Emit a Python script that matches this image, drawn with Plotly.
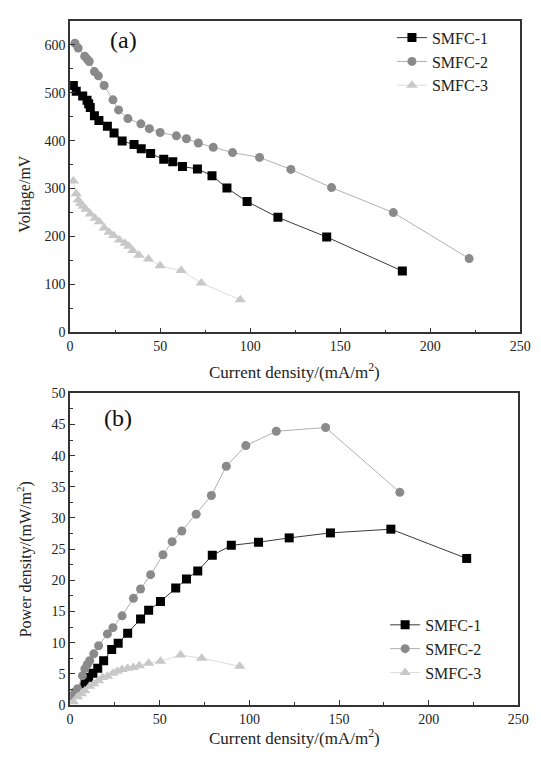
import plotly.graph_objects as go

# Polarization data: current density (mA/m2) vs voltage (mV)
smfc1_i = [1.8, 3.4, 7.0, 9.4, 10.3, 11.2, 13.5, 16.0, 20.7, 24.4, 28.9, 35.5, 39.5, 44.7, 52.0, 57.0, 62.4, 70.7, 78.8, 87.1, 98.3, 115.4, 142.5, 184.5]
smfc1_v = [515, 503, 493, 484, 477, 469, 452, 442, 430, 416, 399, 392, 383, 373, 361, 356, 346, 341, 327, 301, 273, 240, 199, 128]

smfc2_i = [2.7, 4.5, 8.1, 9.5, 10.6, 13.5, 15.7, 18.9, 23.8, 26.9, 32.1, 39.3, 44.0, 50.0, 59.0, 64.6, 71.2, 79.5, 90.2, 105.2, 122.6, 145.2, 179.5, 221.6]
smfc2_v = [603, 593, 576, 570, 565, 544, 535, 515, 485, 464, 446, 435, 425, 417, 410, 404, 395, 386, 375, 365, 340, 302, 250, 154]

smfc3_i = [1.8, 3.4, 4.5, 5.8, 7.2, 8.8, 11.2, 13.9, 16.2, 18.9, 21.6, 24.2, 27.4, 30.5, 32.6, 34.8, 38.2, 43.5, 50.0, 61.7, 72.9, 94.5]
smfc3_v = [316, 289, 276, 269, 263, 257, 247, 238, 231, 218, 209, 202, 193, 186, 180, 171, 161, 153, 139, 129, 103, 68]

# Power density curves: current density (mA/m2) vs power density (mW/m2)
p1_i = [8.2, 10.3, 12.7, 15.4, 18.7, 23.2, 26.8, 32.1, 39.3, 43.8, 50.4, 58.9, 64.9, 71.2, 79.3, 89.9, 105.1, 122.2, 145.2, 178.9, 221.2]
p1_p = [3.4, 4.4, 5.1, 5.9, 7.1, 8.9, 9.9, 11.5, 13.8, 15.2, 16.6, 18.75, 20.2, 21.5, 24.0, 25.6, 26.1, 26.8, 27.6, 28.2, 23.5]

p2_i = [1.3, 2.7, 4.2, 6.9, 8.2, 9.6, 10.9, 13.2, 15.9, 20.8, 23.9, 29.0, 35.3, 39.3, 44.9, 51.8, 56.9, 62.3, 70.3, 78.8, 87.1, 98.0, 115.0, 142.5, 183.9]
p2_p = [1.4, 2.1, 2.6, 4.7, 5.8, 6.5, 7.1, 8.2, 9.5, 11.4, 12.4, 14.3, 17.1, 18.6, 20.9, 24.1, 26.2, 27.9, 30.6, 33.6, 38.3, 41.6, 43.9, 44.5, 34.1]

p3_i = [1.8, 4.2, 6.3, 8.2, 10.9, 13.2, 15.8, 18.1, 20.8, 23.9, 26.3, 29.0, 32.1, 35.3, 38.6, 43.8, 50.4, 61.6, 73.4, 94.6]
p3_p = [0.5, 1.3, 1.8, 2.3, 3.0, 3.4, 3.9, 4.4, 4.6, 5.1, 5.4, 5.7, 5.9, 6.0, 6.3, 6.7, 7.0, 8.0, 7.5, 6.2]

series_names = ["SMFC-1", "SMFC-2", "SMFC-3"]
x_ticks = [0, 50, 100, 150, 200, 250]

FONT = "Liberation Serif"

styles = [
    dict(symbol="square", mcolor="#000000", lcolor="#3a3a3a", size=9),
    dict(symbol="circle", mcolor="#8a8a8a", lcolor="#b0b0b0", size=9),
    dict(symbol="triangle-up", mcolor="#c8c8c8", lcolor="#dcdcdc", size=10),
]

fig = go.Figure()

top = [(smfc1_i, smfc1_v), (smfc2_i, smfc2_v), (smfc3_i, smfc3_v)]
bottom = [(p1_i, p1_p), (p2_i, p2_p), (p3_i, p3_p)]

for name, (xs, ys), st in zip(series_names, top, styles):
    fig.add_trace(go.Scatter(
        x=xs, y=ys, name=name, mode="lines+markers",
        line=dict(color=st["lcolor"], width=1),
        marker=dict(symbol=st["symbol"], color=st["mcolor"], size=st["size"]),
        xaxis="x", yaxis="y", legend="legend",
    ))

for name, (xs, ys), st in zip(series_names, bottom, styles):
    fig.add_trace(go.Scatter(
        x=xs, y=ys, name=name, mode="lines+markers",
        line=dict(color=st["lcolor"], width=1),
        marker=dict(symbol=st["symbol"], color=st["mcolor"], size=st["size"]),
        xaxis="x2", yaxis="y2", legend="legend2",
    ))

W, H = 541, 762


def px_x(v):
    return v / W


def px_y(v):
    return 1 - v / H


axis_common = dict(
    showline=True, linecolor="#333333", linewidth=1.5, mirror=True,
    ticks="inside", ticklen=5, tickcolor="#333333", tickwidth=1,
    showgrid=False, zeroline=False,
    tickfont=dict(family=FONT, size=14, color="#222222"),
)

legend_common = dict(
    xanchor="left", yanchor="top", bgcolor="rgba(0,0,0,0)",
    itemwidth=30, tracegroupgap=0,
    font=dict(family=FONT, size=16, color="#222222"),
)

fig.update_layout(
    width=W, height=H, autosize=False,
    margin=dict(l=0, r=0, t=0, b=0),
    paper_bgcolor="white", plot_bgcolor="white",
    font=dict(family=FONT),
    xaxis=dict(domain=[px_x(68), px_x(531)], range=[0, 250], tickvals=x_ticks,
               minor=dict(ticks="inside", ticklen=3, dtick=25, tickcolor="#333333"),
               anchor="y", **axis_common),
    yaxis=dict(domain=[px_y(332), px_y(14)], range=[0, 650], dtick=100,
               minor=dict(ticks="inside", ticklen=3, dtick=50, tickcolor="#333333"),
               anchor="x", **axis_common),
    xaxis2=dict(domain=[px_x(68), px_x(529)], range=[0, 250], tickvals=x_ticks,
                minor=dict(ticks="inside", ticklen=3, dtick=25, tickcolor="#333333"),
                anchor="y2", **axis_common),
    yaxis2=dict(domain=[px_y(712), px_y(394)], range=[0, 50], dtick=5,
                minor=dict(ticks="inside", ticklen=3, dtick=2.5, tickcolor="#333333"),
                anchor="x2", **axis_common),
    legend=dict(x=px_x(399), y=px_y(14), **legend_common),
    legend2=dict(x=px_x(392), y=px_y(613), **legend_common),
    showlegend=True,
)

annotations = [
    dict(text="(a)", x=px_x(123), y=px_y(34)),
    dict(text="(b)", x=px_x(117), y=px_y(419)),
]
for a in annotations:
    a.update(xref="paper", yref="paper", showarrow=False,
             xanchor="center", yanchor="middle",
             font=dict(family=FONT, size=24, color="#111111"))

titles = [
    dict(text="Current density/(mA/m<sup>2</sup>)", x=px_x(299), y=px_y(371), textangle=0, size=17),
    dict(text="Current density/(mA/m<sup>2</sup>)", x=px_x(299), y=px_y(745), textangle=0, size=17),
    dict(text="Voltage/mV", x=px_x(22), y=px_y(191), textangle=-90, size=16),
    dict(text="Power density/(mW/m<sup>2</sup>)", x=px_x(22), y=px_y(563), textangle=-90, size=16),
]
for t in titles:
    size = t.pop("size")
    t.update(xref="paper", yref="paper", showarrow=False, xanchor="center", yanchor="middle",
             font=dict(family=FONT, size=size, color="#222222"))

fig.update_layout(annotations=annotations + titles)

fig.write_html("out.html")
